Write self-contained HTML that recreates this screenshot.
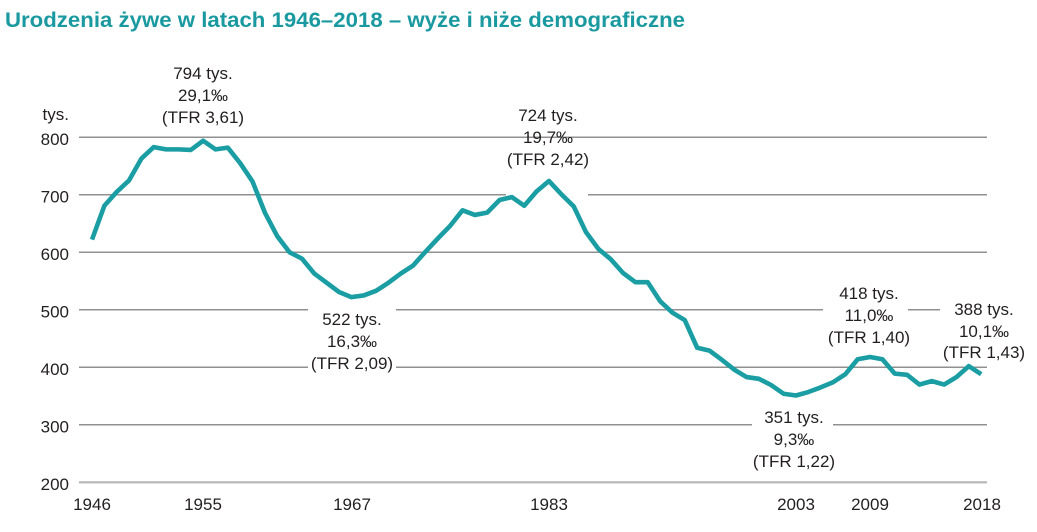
<!DOCTYPE html>
<html><head><meta charset="utf-8"><style>
html,body{margin:0;padding:0;background:#fff;}
svg{display:block;}
text{font-family:"Liberation Sans",sans-serif;fill:#231f20;}
.t{font-size:17px;text-anchor:middle;}
.ax{font-size:17px;}
</style></head><body>
<svg width="1037" height="532" viewBox="0 0 1037 532" xmlns="http://www.w3.org/2000/svg">
<text x="5" y="27" style="font-size:21px;font-weight:bold;fill:#1a9aa0" textLength="680" lengthAdjust="spacingAndGlyphs">Urodzenia żywe w latach 1946–2018 – wyże i niże demograficzne</text>
<g stroke="#909090" stroke-width="1.5">
<line x1="79" y1="137.3" x2="987" y2="137.3"/>
<line x1="79" y1="194.8" x2="987" y2="194.8"/>
<line x1="79" y1="252.3" x2="987" y2="252.3"/>
<line x1="79" y1="309.8" x2="987" y2="309.8"/>
<line x1="79" y1="367.3" x2="987" y2="367.3"/>
<line x1="79" y1="424.8" x2="987" y2="424.8"/>
</g>
<line x1="79" y1="482.3" x2="987" y2="482.3" stroke="#b5b5b5" stroke-width="2.2"/>
<g fill="#fff">
<rect x="506" y="186" width="82" height="19"/>
<rect x="308" y="302" width="88" height="16"/>
<rect x="308" y="359" width="88" height="16"/>
<rect x="752" y="416" width="81" height="18"/>
<rect x="823" y="301" width="85" height="18"/>
<rect x="940" y="301" width="97" height="18"/>
</g>
<g class="ax">
<text x="69" y="120" text-anchor="end">tys.</text>
<text x="69" y="145" text-anchor="end">800</text>
<text x="69" y="202.5" text-anchor="end">700</text>
<text x="69" y="260" text-anchor="end">600</text>
<text x="69" y="317.5" text-anchor="end">500</text>
<text x="69" y="375" text-anchor="end">400</text>
<text x="69" y="432.5" text-anchor="end">300</text>
<text x="69" y="490" text-anchor="end">200</text>
<text x="92" y="510" text-anchor="middle">1946</text>
<text x="203" y="510" text-anchor="middle">1955</text>
<text x="352" y="510" text-anchor="middle">1967</text>
<text x="549" y="510" text-anchor="middle">1983</text>
<text x="796" y="510" text-anchor="middle">2003</text>
<text x="870" y="510" text-anchor="middle">2009</text>
<text x="982" y="510" text-anchor="middle">2018</text>
</g>
<polyline fill="none" stroke="#1a9ea3" stroke-width="4.6" stroke-linejoin="round" stroke-linecap="butt" points="92,239.65 104.35,205.73 116.7,191.93 129.05,180.43 141.4,158.58 153.75,147.08 166.1,149.38 178.45,149.38 190.8,149.95 203.15,140.75 215.5,149.38 227.85,147.65 240.2,163.18 252.55,181.58 264.9,212.63 277.25,236.2 289.6,252.3 301.95,258.63 314.3,273.58 326.65,282.78 339,291.98 351.35,297.15 363.7,295.43 376.05,290.83 388.4,282.78 400.75,273.58 413.1,265.53 425.45,251.73 437.8,238.5 450.15,225.85 462.5,210.33 474.85,214.93 487.2,212.63 499.55,199.98 511.9,197.1 524.25,205.73 536.6,191.35 548.95,181 561.3,194.23 573.65,206.3 586,232.18 598.35,248.85 610.7,259.2 623.05,273 635.4,282.2 647.75,282.2 660.1,301.18 672.45,312.68 684.8,320.15 697.15,347.75 709.5,350.63 721.85,359.83 734.2,369.6 746.55,377.08 758.9,378.8 771.25,385.13 783.6,393.75 795.95,395.48 808.3,392.03 820.65,387.43 833,382.25 845.35,374.2 857.7,359.25 870.05,356.95 882.4,359.25 894.75,373.63 907.1,374.78 919.45,384.55 931.8,381.1 944.15,384.55 956.5,377.08 968.85,366.15 981.2,374.2"/>
<g class="t">
<text x="203" y="79">794 tys.</text>
<text x="203" y="101">29,1‰</text>
<text x="203" y="123">(TFR 3,61)</text>
<text x="548" y="121">724 tys.</text>
<text x="548" y="143">19,7‰</text>
<text x="548" y="165">(TFR 2,42)</text>
<text x="352" y="325">522 tys.</text>
<text x="352" y="347">16,3‰</text>
<text x="352" y="369">(TFR 2,09)</text>
<text x="794" y="423">351 tys.</text>
<text x="794" y="445">9,3‰</text>
<text x="794" y="467">(TFR 1,22)</text>
<text x="869" y="299">418 tys.</text>
<text x="869" y="321">11,0‰</text>
<text x="869" y="343">(TFR 1,40)</text>
<text x="984" y="315">388 tys.</text>
<text x="984" y="337">10,1‰</text>
<text x="984" y="358">(TFR 1,43)</text>
</g>
</svg>
</body></html>
